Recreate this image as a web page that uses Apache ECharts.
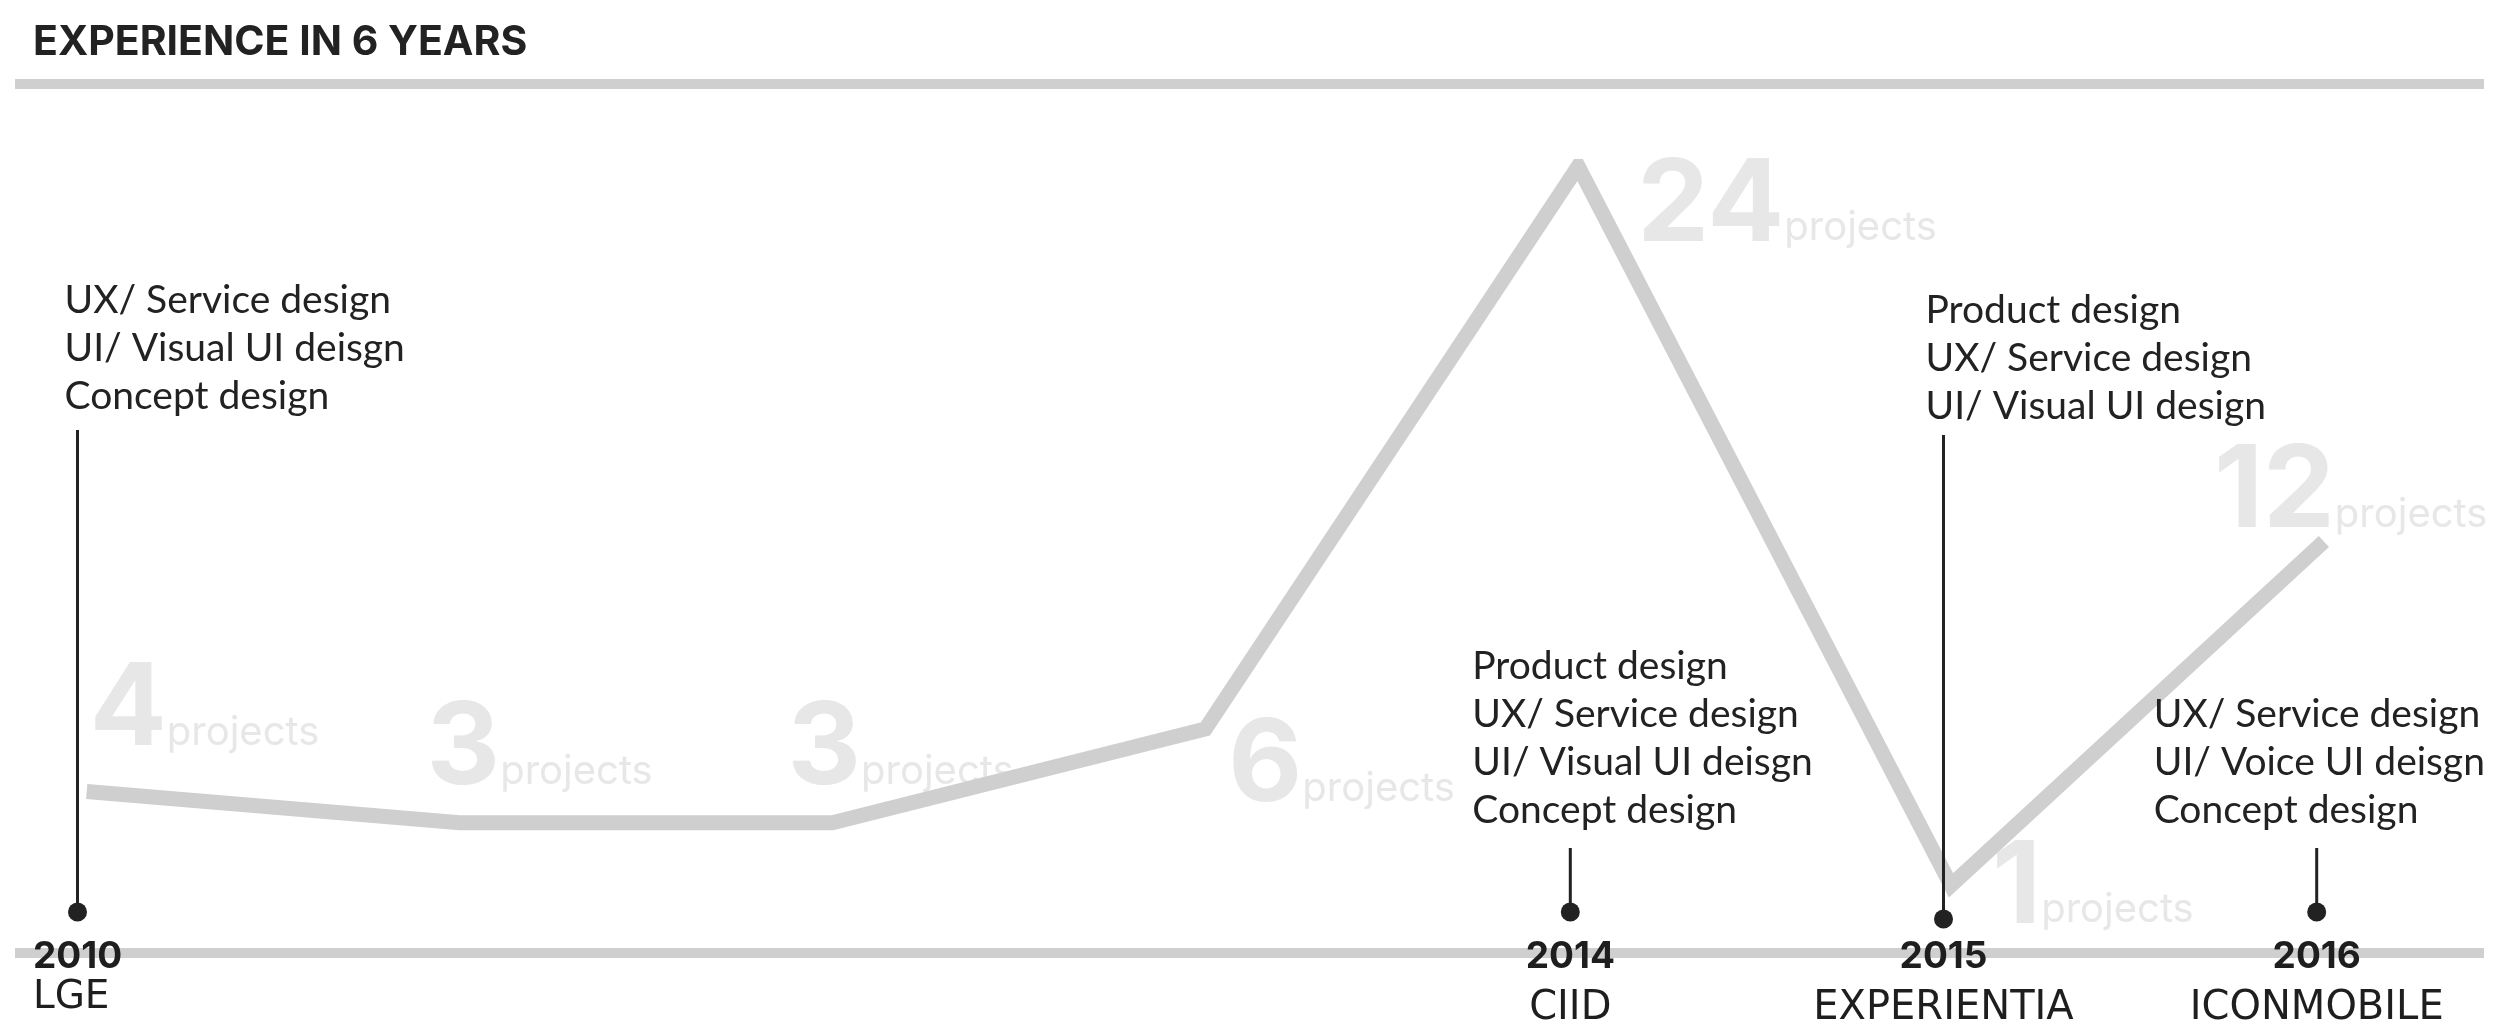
<!DOCTYPE html>
<html><head><meta charset="utf-8">
<script src="https://cdn.jsdelivr.net/npm/echarts@6/dist/echarts.min.js"></script>
<style>html,body{margin:0;padding:0;background:#fff}#c{width:2500px;height:1031px}</style>
</head><body><div id="c"></div>
<script>
// ---- data ----
const years = ['2010', '2011', '2012', '2013', '2014', '2015', '2016'];
const projectCounts = [4, 3, 3, 6, 24, 1, 12];
const unitText = 'projects';
const titleText = 'EXPERIENCE IN 6 YEARS';
const eventYears = ['2010', '2014', '2015', '2016'];
const eventCompanies = ['LGE', 'CIID', 'EXPERIENTIA', 'ICONMOBILE'];
const eventRoles = [
  ['UX/ Service design', 'UI/ Visual UI deisgn', 'Concept design'],
  ['Product design', 'UX/ Service design', 'UI/ Visual UI deisgn', 'Concept design'],
  ['Product design', 'UX/ Service design', 'UI/ Visual UI design'],
  ['UX/ Service design', 'UI/ Voice UI deisgn', 'Concept design']
];

// ---- layout (offsets / sizes only) ----
const countLabelOffsets = [[3, -24], [-33, -16], [-45, -16], [23, 95], [59, 97], [41, 60], [-110, 8]];
const eventLayout = [
  { stem: 482, textDx: -13, gap: 10, dotDy: 0 },
  { stem: 64, textDx: -98, gap: 14, dotDy: 0 },
  { stem: 484, textDx: -18, gap: 5, dotDy: 7 },
  { stem: 64, textDx: -163, gap: 14, dotDy: 0 }
];

const chart = echarts.init(document.getElementById('c'), null, { renderer: 'canvas' });
const dark = '#222222';
const option = {
  backgroundColor: '#ffffff',
  animation: false,
  title: {
    text: titleText, left: 33, top: 22, padding: 0,
    textStyle: { fontFamily: 'Inter', fontWeight: 700, fontSize: 41, color: dark }
  },
  graphic: [
    { type: 'rect', z: -10, shape: { x: 15, y: 79, width: 2469, height: 10 }, style: { fill: '#cfcfcf' } },
    { type: 'rect', z: -10, shape: { x: 15, y: 948, width: 2469, height: 10 }, style: { fill: '#cfcfcf' } }
  ],
  grid: [
    { left: 86.7, right: 176.1, top: 166.4, bottom: 114.4, containLabel: false, outerBoundsMode: 'none' },
    { left: 77.5, right: 183.3, top: 100, bottom: 119, containLabel: false, outerBoundsMode: 'none' }
  ],
  xAxis: [
    { type: 'category', gridIndex: 0, data: years, boundaryGap: false, show: false },
    {
      type: 'category', gridIndex: 1, data: years, boundaryGap: false, z: 10,
      axisLine: { show: false }, axisTick: { show: false }, splitLine: { show: false },
      axisLabel: {
        interval: 0, margin: 25,
        formatter: function (value) {
          const k = eventYears.indexOf(value);
          if (k < 0) return '';
          return '{y|' + value + '}\n{' + (k === 0 ? 'c0' : 'c') + '|' + eventCompanies[k] + '}';
        },
        rich: {
          y: { fontFamily: 'Inter', fontWeight: 700, fontSize: 37, lineHeight: 40, color: '#1e1e1e' },
          c: { fontFamily: 'DejaVu Sans', fontSize: 40, lineHeight: 64, color: '#1e1e1e' },
          c0: { fontFamily: 'DejaVu Sans', fontSize: 39, lineHeight: 41, color: '#1e1e1e', align: 'left' }
        }
      }
    }
  ],
  yAxis: [
    { type: 'value', gridIndex: 0, min: 0, max: 24, show: false },
    { type: 'value', gridIndex: 1, min: 0, max: 1, show: false }
  ],
  series: [
    {
      type: 'scatter', xAxisIndex: 0, yAxisIndex: 0, z: 1, silent: true,
      symbolSize: 1, itemStyle: { color: 'rgba(0,0,0,0)' },
      data: projectCounts.map(function (v, i) {
        return { value: [years[i], v], label: { offset: countLabelOffsets[i] } };
      }),
      label: {
        show: true, position: 'inside', align: 'left', verticalAlign: 'bottom',
        formatter: function (p) { return '{n|' + p.value[1] + '}{u|' + unitText + '}'; },
        rich: {
          n: { fontFamily: 'Inter', fontWeight: 700, fontSize: 114, lineHeight: 114, color: '#e1e1e1', verticalAlign: 'bottom' },
          u: { fontFamily: 'Inter', fontSize: 40, lineHeight: 70, color: '#e1e1e1', verticalAlign: 'bottom', padding: [0, 0, 15, 0] }
        }
      }
    },
    {
      type: 'line', xAxisIndex: 0, yAxisIndex: 0, z: 2, silent: true,
      data: projectCounts, symbol: 'none',
      lineStyle: { width: 15, color: '#cfcfcf', cap: 'butt', join: 'miter', miterLimit: 10 }
    },
    {
      type: 'custom', xAxisIndex: 1, yAxisIndex: 1, z: 3, silent: true,
      data: eventYears.map(function (y) { return [years.indexOf(y), 0]; }),
      renderItem: function (params, api) {
        const i = params.dataIndex;
        const L = eventLayout[i];
        const pt = api.coord([api.value(0), api.value(1)]);
        const x = pt[0], y = pt[1] + L.dotDy;
        const top = y - L.stem;
        return {
          type: 'group',
          children: [
            { type: 'line', shape: { x1: x, y1: y, x2: x, y2: top }, style: { stroke: dark, lineWidth: 3 } },
            { type: 'circle', shape: { cx: x, cy: y, r: 9.5 }, style: { fill: dark } },
            {
              type: 'text',
              style: {
                text: eventRoles[i].join('\n'), x: x + L.textDx, y: top - L.gap,
                align: 'left', verticalAlign: 'bottom',
                fontFamily: 'Lato', fontSize: 39, fontWeight: 400, lineHeight: 48, fill: dark
              }
            }
          ]
        };
      }
    }
  ]
};
chart.setOption(option);
</script>
</body></html>
